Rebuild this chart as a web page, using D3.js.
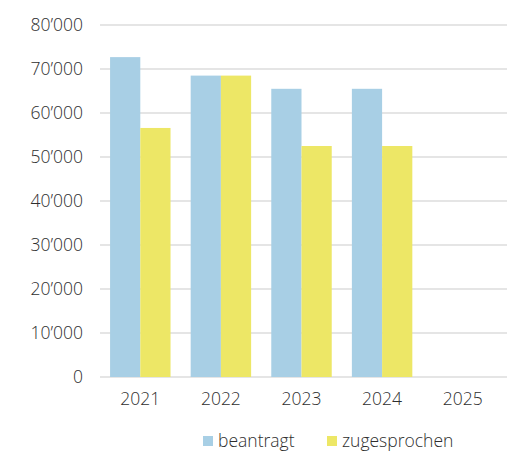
<!DOCTYPE html>
<html><head><meta charset="utf-8">
<script src="https://cdn.jsdelivr.net/npm/d3@7"></script>
<style>body{margin:0;background:#fff;} text{font-family:"Open Sans", Lato, sans-serif;}</style>
</head><body><svg id="c" width="516" height="452"></svg>
<script>
const categories = ["2021","2022","2023","2024","2025"];
const beantragt = [72700, 68500, 65500, 65500, null];
const zugesprochen = [56600, 68500, 52500, 52500, null];
const yTicks = [0,10000,20000,30000,40000,50000,60000,70000,80000];
const seriesNames = ["beantragt","zugesprochen"];
const colors = ["#a8cfe5","#ede766"];

(function () {
const svg = d3.select("#c");
const mLeft = 100, mRight = 503, mTop = 25, mBottom = 377;
const fs = 17.5;
const tc = "#2e2e2e";
const x = d3.scaleBand().domain(categories).range([mLeft, mRight]).paddingInner(0.25).paddingOuter(0.125);
const x1 = d3.scaleBand().domain(seriesNames).range([0, x.bandwidth()]);
const y = d3.scaleLinear().domain([0, 80000]).range([mBottom, mTop]);
const fmt = v => v === 0 ? "0" : d3.format(",")(v).replace(/,/g, "\u2019");

svg.append("g").selectAll("line").data(yTicks).join("line")
  .attr("x1", mLeft).attr("x2", 507)
  .attr("y1", d => y(d)).attr("y2", d => y(d))
  .attr("stroke", "#dddddd").attr("stroke-width", 1.5);

svg.append("g").selectAll("text").data(yTicks).join("text")
  .attr("x", 83).attr("y", d => y(d)).attr("dy", "0.35em")
  .attr("text-anchor", "end").attr("font-size", fs).attr("font-weight", 300).attr("fill", tc)
  .text(fmt);

const series = [beantragt, zugesprochen];
series.forEach((vals, si) => {
  svg.append("g").selectAll("rect")
    .data(categories.map((c, i) => ({c, v: vals[i]})).filter(d => d.v != null))
    .join("rect")
    .attr("x", d => x(d.c) + x1(seriesNames[si]))
    .attr("width", x1.bandwidth())
    .attr("y", d => y(d.v))
    .attr("height", d => y(0) - y(d.v))
    .attr("fill", colors[si]);
});

svg.append("g").selectAll("text").data(categories).join("text")
  .attr("x", d => x(d) + x.bandwidth() / 2).attr("y", 405)
  .attr("text-anchor", "middle").attr("font-size", fs).attr("font-weight", 300).attr("fill", tc)
  .text(d => d);

const legX = [203, 327];
seriesNames.forEach((n, i) => {
  svg.append("rect").attr("x", legX[i]).attr("y", 436).attr("width", 10).attr("height", 10).attr("fill", colors[i]);
  svg.append("text").attr("x", legX[i] + 15).attr("y", 447).attr("font-size", fs).attr("font-weight", 300).attr("fill", tc).text(n);
});
})();
</script></body></html>
